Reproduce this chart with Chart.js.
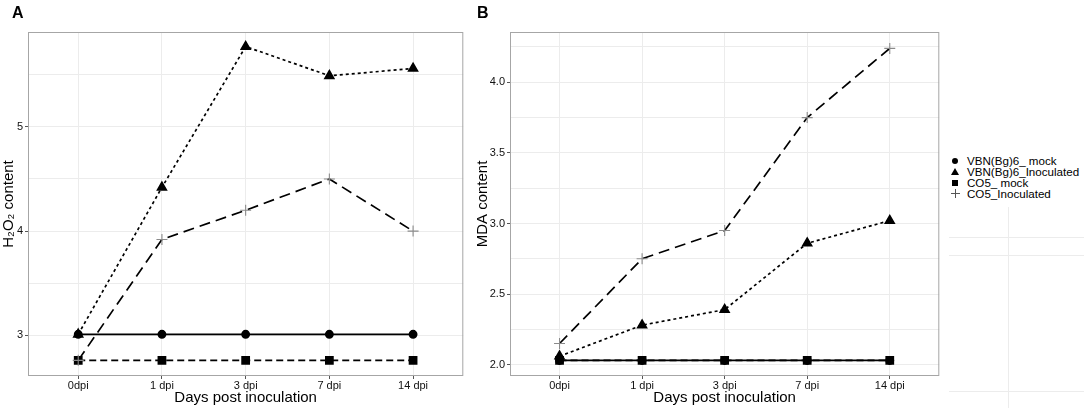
<!DOCTYPE html>
<html>
<head>
<meta charset="utf-8">
<script src="https://cdn.jsdelivr.net/npm/chart.js@4"></script>
<style>
  html,body{margin:0;padding:0;background:#fff;width:1084px;height:408px;overflow:hidden;font-family:"Liberation Sans",Arial,sans-serif;}
  .box{position:absolute;top:0;height:408px;}
  .panel{position:absolute;font-weight:bold;font-size:16px;color:#000;top:4px;}
  .leg{position:absolute;left:967px;font-size:11.6px;color:#000;line-height:12px;white-space:nowrap;}
  .sym{position:absolute;background:#000;}
  .faint{position:absolute;background:#ececec;}
</style>
</head>
<body>
<div class="box" style="left:0;width:470px;"><canvas id="cA"></canvas></div>
<div class="box" style="left:470px;width:476px;"><canvas id="cB"></canvas></div>
<div class="panel" style="left:12px;">A</div>
<div class="panel" style="left:477px;">B</div>
<div class="faint" style="left:949px;top:237px;width:135px;height:1px;"></div>
<div class="faint" style="left:949px;top:255px;width:135px;height:1px;"></div>
<div class="faint" style="left:949px;top:391px;width:135px;height:1px;"></div>
<div class="faint" style="left:1008px;top:207px;width:1px;height:201px;"></div>
<!-- legend symbols -->
<div class="sym" style="left:952px;top:158px;width:6px;height:6px;border-radius:50%;"></div>
<div style="position:absolute;left:951px;top:168px;width:0;height:0;border-left:4px solid transparent;border-right:4px solid transparent;border-bottom:7px solid #000;"></div>
<div class="sym" style="left:952px;top:180px;width:6px;height:6px;"></div>
<div class="sym" style="left:951px;top:193px;width:9px;height:1px;background:#555;"></div>
<div class="sym" style="left:955px;top:189px;width:1px;height:9px;background:#555;"></div>
<div class="leg" style="top:155px;">VBN(Bg)6_ mock</div>
<div class="leg" style="top:166px;">VBN(Bg)6_Inoculated</div>
<div class="leg" style="top:177px;">CO5_ mock</div>
<div class="leg" style="top:188px;">CO5_Inoculated</div>
<script>
const categories = ['0dpi', '1 dpi', '3 dpi', '7 dpi', '14 dpi'];
const seriesNames = ['VBN(Bg)6_ mock', 'VBN(Bg)6_Inoculated', 'CO5_ mock', 'CO5_Inoculated'];

// Panel A: H2O2 content
const vbnMockA = [3.01, 3.01, 3.01, 3.01, 3.01];
const vbnInocA = [3.01, 4.42, 5.77, 5.49, 5.56];
const co5MockA = [2.76, 2.76, 2.76, 2.76, 2.76];
const co5InocA = [2.76, 3.92, 4.20, 4.50, 4.00];
const yTicksA = [3, 3.5, 4, 4.5, 5, 5.5];
const yLabelsA = ['3', '', '4', '', '5', ''];

// Panel B: MDA content
const vbnMockB = [2.03, 2.03, 2.03, 2.03, 2.03];
const vbnInocB = [2.06, 2.28, 2.39, 2.86, 3.02];
const co5MockB = [2.03, 2.03, 2.03, 2.03, 2.03];
const co5InocB = [2.15, 2.75, 2.95, 3.75, 4.24];
const yTicksB = [2.0, 2.25, 2.5, 2.75, 3.0, 3.25, 3.5, 3.75, 4.0, 4.25];
const yLabelsB = ['2.0', '', '2.5', '', '3.0', '', '3.5', '', '4.0', ''];

const FONT = '"Liberation Sans", Arial, sans-serif';

const frame = {
  id: 'frame',
  afterDraw(c) {
    const {ctx, chartArea: a} = c;
    ctx.save();
    ctx.strokeStyle = '#a6a6a6';
    ctx.lineWidth = 1;
    ctx.strokeRect(a.left + 0.5, a.top + 0.5, a.right - a.left - 1, a.bottom - a.top - 1);
    ctx.restore();
  }
};

function pts(arr) { return arr.map((v, i) => ({x: i, y: v})); }

function makeDatasets(vm, vi, cm, ci) {
  return [
    {label: seriesNames[0], data: pts(vm), borderColor: '#000', backgroundColor: '#000',
     borderWidth: 1.7, pointStyle: 'circle', pointRadius: 3.6, order: 3},
    {label: seriesNames[1], data: pts(vi), borderColor: '#000', backgroundColor: '#000',
     borderWidth: 1.7, borderDash: [3, 3], pointStyle: 'triangle', pointRadius: 5, order: 2},
    {label: seriesNames[2], data: pts(cm), borderColor: '#000', backgroundColor: '#000',
     borderWidth: 1.7, borderDash: [7, 4], pointStyle: 'rect', pointRadius: 5, order: 1},
    {label: seriesNames[3], data: pts(ci), borderColor: '#000', backgroundColor: '#000',
     pointBorderColor: '#8a8a8a', pointBorderWidth: 1.1,
     borderWidth: 1.7, borderDash: [11, 6], pointStyle: 'cross', pointRadius: 5.5, order: 0}
  ];
}

function makeChart(id, datasets, yMin, yMax, yTicks, yLabels, yTitle, yWidth, yTitlePad) {
  return new Chart(document.getElementById(id), {
    type: 'line',
    data: {datasets},
    plugins: [frame],
    options: {
      responsive: true,
      maintainAspectRatio: false,
      animation: false,
      devicePixelRatio: 1,
      layout: {padding: {top: 32, right: 1, left: 0, bottom: 0}},
      plugins: {legend: {display: false}, tooltip: {enabled: false}},
      elements: {line: {tension: 0, fill: false}},
      scales: {
        x: {
          type: 'linear', min: -0.6, max: 4.6,
          afterBuildTicks: s => { s.ticks = categories.map((c, i) => ({value: i})); },
          afterFit: s => { s.height = 32; },
          ticks: {callback: v => categories[v], color: '#111', font: {family: FONT, size: 11}, padding: 0},
          grid: {color: '#ececec', lineWidth: 1, drawTicks: true, tickLength: 3, tickColor: '#555'},
          border: {display: false},
          title: {display: true, text: 'Days post inoculation', color: '#000',
                  font: {family: FONT, size: 15}, padding: {top: 0, bottom: 1}}
        },
        y: {
          type: 'linear', min: yMin, max: yMax,
          afterBuildTicks: s => { s.ticks = yTicks.map(v => ({value: v})); },
          afterFit: s => { s.width = yWidth; },
          ticks: {callback: (v, i) => yLabels[i], color: '#111', font: {family: FONT, size: 11}, padding: 2},
          grid: {color: '#ececec', lineWidth: 1, drawTicks: true, tickLength: 3,
                 tickColor: (c) => (yLabels[c.index] ? '#555' : 'rgba(0,0,0,0)')},
          border: {display: false},
          title: {display: true, text: yTitle, color: '#000',
                  font: {family: FONT, size: 15}, padding: {top: yTitlePad, bottom: 0}}
        }
      }
    }
  });
}

makeChart('cA', makeDatasets(vbnMockA, vbnInocA, co5MockA, co5InocA),
  2.61, 5.91, yTicksA, yLabelsA, 'H₂O₂ content', 28, 0);
makeChart('cB', makeDatasets(vbnMockB, vbnInocB, co5MockB, co5InocB),
  1.92, 4.356, yTicksB, yLabelsB, 'MDA content', 40, 4);
</script>
</body>
</html>
